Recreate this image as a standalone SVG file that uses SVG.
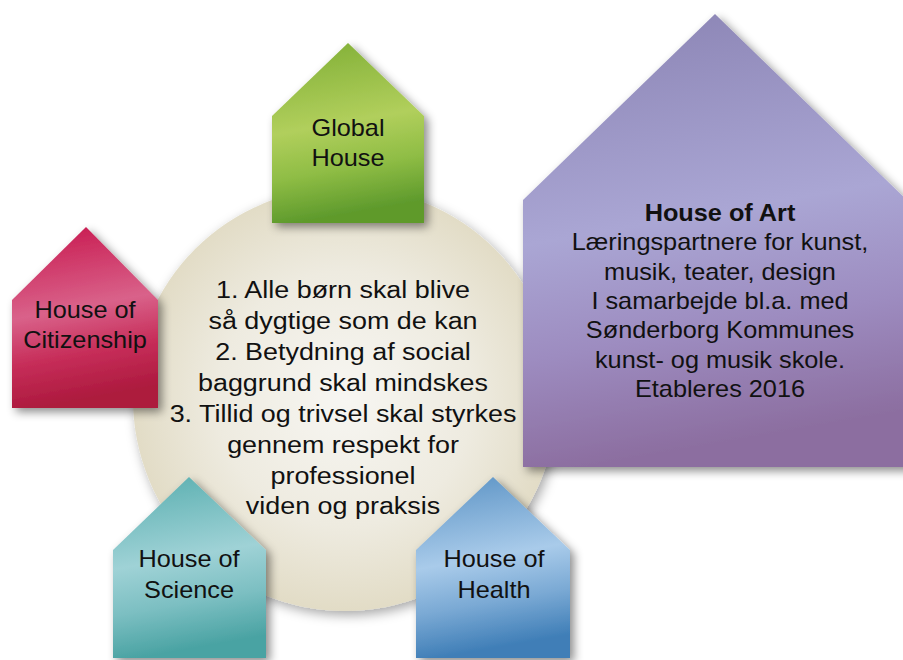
<svg xmlns="http://www.w3.org/2000/svg" width="903" height="660" viewBox="0 0 903 660">
<defs>
<style>
.t{font-family:"Liberation Sans",Arial,sans-serif;font-size:23px;fill:#111;text-anchor:middle}
.b{font-weight:bold}
.house{filter:url(#sh)}
</style>
<filter id="sh" x="-20%" y="-20%" width="150%" height="150%">
<feDropShadow dx="4" dy="4" stdDeviation="5" flood-color="#000" flood-opacity="0.45"/>
</filter>
<filter id="shc" x="-20%" y="-20%" width="140%" height="140%">
<feDropShadow dx="3" dy="4" stdDeviation="6" flood-color="#000" flood-opacity="0.35"/>
</filter>
<radialGradient id="gc" cx="0.5" cy="0.5" r="0.5">
<stop offset="0" stop-color="#f7f6f2"/>
<stop offset="0.6" stop-color="#eeebe0"/>
<stop offset="1" stop-color="#e2dcc6"/>
</radialGradient>
<linearGradient id="gg" x1="0" y1="0" x2="0.15" y2="1">
<stop offset="0" stop-color="#7fae35"/>
<stop offset="0.5" stop-color="#b1cf5c"/>
<stop offset="0.75" stop-color="#8fbd45"/>
<stop offset="1" stop-color="#5e9a2c"/>
</linearGradient>
<linearGradient id="gr" x1="0" y1="0" x2="0.15" y2="1">
<stop offset="0" stop-color="#c7154c"/>
<stop offset="0.5" stop-color="#d9628a"/>
<stop offset="0.75" stop-color="#c72e5a"/>
<stop offset="1" stop-color="#ad1a3e"/>
</linearGradient>
<linearGradient id="gp" x1="0" y1="0" x2="0.15" y2="1">
<stop offset="0" stop-color="#8a83b3"/>
<stop offset="0.5" stop-color="#aaa6d4"/>
<stop offset="0.75" stop-color="#9d8cc0"/>
<stop offset="1" stop-color="#8c6ea0"/>
</linearGradient>
<linearGradient id="gt" x1="0" y1="0" x2="0.15" y2="1">
<stop offset="0" stop-color="#58aeaf"/>
<stop offset="0.5" stop-color="#9fd2d6"/>
<stop offset="0.75" stop-color="#7cbfc2"/>
<stop offset="1" stop-color="#4aa3a3"/>
</linearGradient>
<linearGradient id="gb" x1="0" y1="0" x2="0.15" y2="1">
<stop offset="0" stop-color="#5a92c4"/>
<stop offset="0.5" stop-color="#a9cbea"/>
<stop offset="0.75" stop-color="#7aa9d4"/>
<stop offset="1" stop-color="#3f7eb7"/>
</linearGradient>
</defs>
<rect width="903" height="660" fill="#fff"/>

<g id="center">
<circle cx="345" cy="399" r="212" fill="url(#gc)" filter="url(#shc)"/>
<g transform="translate(343,0) scale(1.17,1)">
<text class="t" font-size="22" x="0" y="298">1. Alle børn skal blive</text>
<text class="t" font-size="22" x="0" y="329">så dygtige som de kan</text>
<text class="t" font-size="22" x="0" y="360">2. Betydning af social</text>
<text class="t" font-size="22" x="0" y="391">baggrund skal mindskes</text>
<text class="t" font-size="22" x="0" y="422">3. Tillid og trivsel skal styrkes</text>
<text class="t" font-size="22" x="0" y="453">gennem respekt for</text>
<text class="t" font-size="22" x="0" y="484">professionel</text>
<text class="t" font-size="22" x="0" y="514">viden og praksis</text>
</g>
</g>

<g id="global-house">
<polygon class="house" points="272,116 348,43 424,116 424,223 272,223" fill="url(#gg)"/>
<g transform="translate(348,0) scale(1.1,1)">
<text class="t" x="0" y="136">Global</text>
<text class="t" x="0" y="166">House</text>
</g>
</g>

<g id="house-of-citizenship">
<polygon class="house" points="12,300 86,227 158,300 158,408 12,408" fill="url(#gr)"/>
<g transform="translate(85,0) scale(1.1,1)">
<text class="t" x="0" y="318">House of</text>
<text class="t" x="0" y="348">Citizenship</text>
</g>
</g>

<g id="house-of-science">
<polygon class="house" points="113,550 189,477 266,550 266,658 113,658" fill="url(#gt)"/>
<g transform="translate(189,0) scale(1.1,1)">
<text class="t" x="0" y="567">House of</text>
<text class="t" x="0" y="598">Science</text>
</g>
</g>

<g id="house-of-health">
<polygon class="house" points="416,550 493,477 570,550 570,658 416,658" fill="url(#gb)"/>
<g transform="translate(494,0) scale(1.1,1)">
<text class="t" x="0" y="567">House of</text>
<text class="t" x="0" y="598">Health</text>
</g>
</g>

<g id="house-of-art">
<polygon class="house" points="523,200 715,14 912,205 912,467 523,467" fill="url(#gp)"/>
<g transform="translate(720,0) scale(1.1,1)">
<text class="t b" x="0" y="221">House of Art</text>
<text class="t" x="0" y="250">Læringspartnere for kunst,</text>
<text class="t" x="0" y="280">musik, teater, design</text>
<text class="t" x="0" y="309">I samarbejde bl.a. med</text>
<text class="t" x="0" y="338">Sønderborg Kommunes</text>
<text class="t" x="0" y="368"> kunst- og musik skole.</text>
<text class="t" x="0" y="397">Etableres 2016</text>
</g>
</g>

<g id="connectors"/>
</svg>
